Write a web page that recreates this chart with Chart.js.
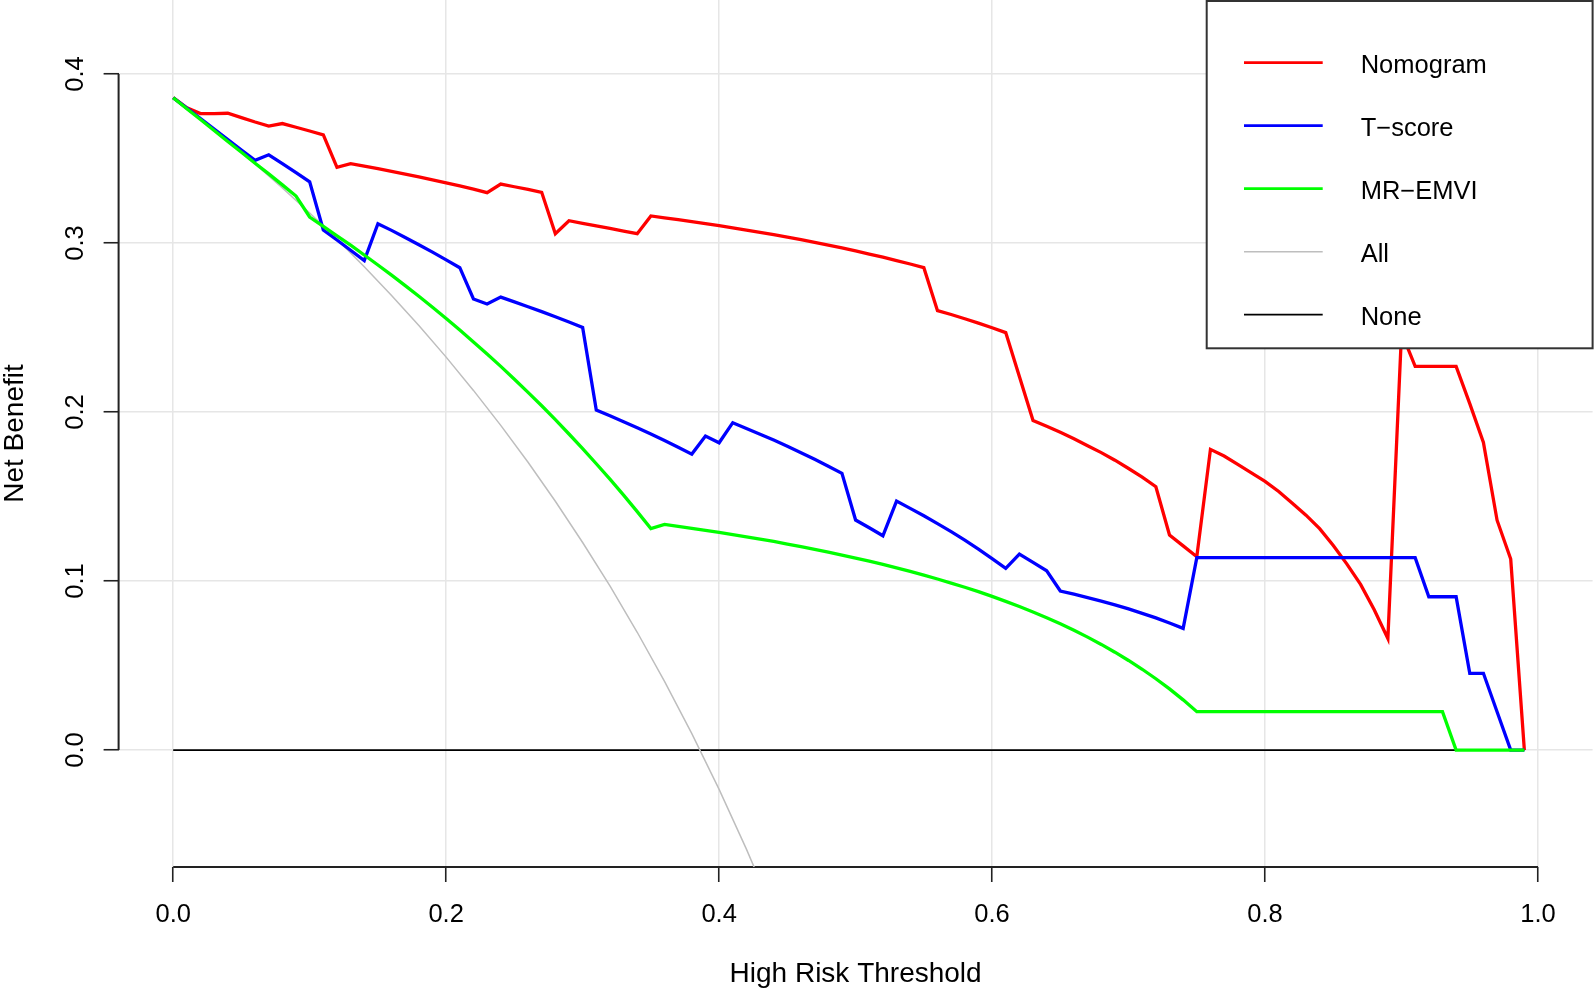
<!DOCTYPE html>
<html>
<head>
<meta charset="utf-8">
<title>Decision curve</title>
<script src="https://cdn.jsdelivr.net/npm/chart.js@4.4.1/dist/chart.umd.min.js"></script>
<style>
  html, body { margin: 0; padding: 0; background: #fff; }
  #chart { display: block; }
</style>
</head>
<body>
<canvas id="chart" width="1594" height="992"></canvas>
<script>
// threshold probabilities (x values of the model curves)
const thresholds = [
  0.00, 0.01, 0.02, 0.03, 0.04, 0.05, 0.06, 0.07, 0.08, 0.09,
  0.10, 0.11, 0.12, 0.13, 0.14, 0.15, 0.16, 0.17, 0.18, 0.19,
  0.20, 0.21, 0.22, 0.23, 0.24, 0.25, 0.26, 0.27, 0.28, 0.29,
  0.30, 0.31, 0.32, 0.33, 0.34, 0.35, 0.36, 0.37, 0.38, 0.39,
  0.40, 0.41, 0.42, 0.43, 0.44, 0.45, 0.46, 0.47, 0.48, 0.49,
  0.50, 0.51, 0.52, 0.53, 0.54, 0.55, 0.56, 0.57, 0.58, 0.59,
  0.60, 0.61, 0.62, 0.63, 0.64, 0.65, 0.66, 0.67, 0.68, 0.69,
  0.70, 0.71, 0.72, 0.73, 0.74, 0.75, 0.76, 0.77, 0.78, 0.79,
  0.80, 0.81, 0.82, 0.83, 0.84, 0.85, 0.86, 0.87, 0.88, 0.89,
  0.90, 0.91, 0.92, 0.93, 0.94, 0.95, 0.96, 0.97, 0.98, 0.99
];

// net benefit
const nomogram = [
  0.386, 0.380, 0.3766, 0.3766, 0.3768, 0.3742, 0.3716, 0.3692, 0.3707, 0.3685,
  0.3663, 0.3640, 0.3448, 0.3470, 0.3455, 0.3440, 0.3424, 0.3408, 0.3391, 0.3374,
  0.3356, 0.3338, 0.3319, 0.3298, 0.3349, 0.3333, 0.3317, 0.3300, 0.3055, 0.3132,
  0.3117, 0.3102, 0.3087, 0.3071, 0.3055, 0.3160, 0.3149, 0.3138, 0.3127, 0.3115,
  0.3103, 0.3090, 0.3077, 0.3063, 0.3049, 0.3035, 0.3020, 0.3004, 0.2988, 0.2971,
  0.2953, 0.2935, 0.2916, 0.2896, 0.2876, 0.2854, 0.2600, 0.2577, 0.2552, 0.2526,
  0.2499, 0.2470, 0.2210, 0.1950, 0.1916, 0.1880, 0.1842, 0.1800, 0.1760, 0.1715,
  0.1666, 0.1615, 0.1558, 0.1272, 0.1208, 0.1144, 0.1779, 0.1740, 0.1690, 0.1640,
  0.1590, 0.1530, 0.1460, 0.1390, 0.1310, 0.1210, 0.1100, 0.0980, 0.0830, 0.0660,
  0.2470, 0.2270, 0.2270, 0.2270, 0.2270, 0.2050, 0.1820, 0.1360, 0.1130, 0.0000
];

const tScore = [
  0.386, 0.3798, 0.3737, 0.3675, 0.3612, 0.3550, 0.3489, 0.3522, 0.3470, 0.3416,
  0.3362, 0.3077, 0.3018, 0.2957, 0.2896, 0.3114, 0.3075, 0.3033, 0.2990, 0.2946,
  0.2900, 0.2854, 0.2669, 0.2639, 0.2680, 0.2652, 0.2623, 0.2594, 0.2564, 0.2533,
  0.2501, 0.2012, 0.1978, 0.1943, 0.1907, 0.1870, 0.1832, 0.1792, 0.1751, 0.1858,
  0.1818, 0.1937, 0.1903, 0.1869, 0.1834, 0.1797, 0.1759, 0.1720, 0.1679, 0.1637,
  0.1361, 0.1315, 0.1268, 0.1473, 0.1430, 0.1386, 0.1340, 0.1292, 0.1242, 0.1189,
  0.1133, 0.1075, 0.1160, 0.1110, 0.1061, 0.0941, 0.0922, 0.0902, 0.0881, 0.0859,
  0.0835, 0.0809, 0.0782, 0.0752, 0.0720, 0.1138, 0.1138, 0.1138, 0.1138, 0.1138,
  0.1138, 0.1138, 0.1138, 0.1138, 0.1138, 0.1138, 0.1138, 0.1138, 0.1138, 0.1138,
  0.1138, 0.1138, 0.0907, 0.0907, 0.0907, 0.0454, 0.0454, 0.0227, 0.0000, 0.0000
];

const mrEmvi = [
  0.386, 0.3795, 0.3731, 0.3666, 0.3601, 0.3537, 0.3472, 0.3409, 0.3344, 0.3278,
  0.3154, 0.3098, 0.3043, 0.2987, 0.2929, 0.2870, 0.2810, 0.2748, 0.2685, 0.2620,
  0.2553, 0.2485, 0.2415, 0.2344, 0.2270, 0.2194, 0.2116, 0.2037, 0.1955, 0.1870,
  0.1784, 0.1694, 0.1603, 0.1508, 0.1411, 0.1310, 0.1335, 0.1324, 0.1312, 0.1300,
  0.1288, 0.1275, 0.1262, 0.1248, 0.1234, 0.1219, 0.1204, 0.1188, 0.1171, 0.1154,
  0.1136, 0.1118, 0.1099, 0.1078, 0.1057, 0.1035, 0.1012, 0.0988, 0.0963, 0.0937,
  0.0909, 0.0880, 0.0849, 0.0817, 0.0783, 0.0747, 0.0709, 0.0668, 0.0625, 0.0579,
  0.0530, 0.0478, 0.0422, 0.0362, 0.0297, 0.0227, 0.0227, 0.0227, 0.0227, 0.0227,
  0.0227, 0.0227, 0.0227, 0.0227, 0.0227, 0.0227, 0.0227, 0.0227, 0.0227, 0.0227,
  0.0227, 0.0227, 0.0227, 0.0227, 0.0000, 0.0000, 0.0000, 0.0000, 0.0000, 0.0000
];

// "treat all" reference curve
const allX = [0.00, 0.02, 0.04, 0.06, 0.08, 0.10, 0.12, 0.14, 0.16, 0.18, 0.20, 0.22,
  0.24, 0.26, 0.28, 0.30, 0.32, 0.34, 0.36, 0.38, 0.40, 0.42, 0.44];
const allY = [0.386, 0.3735, 0.3604, 0.3468, 0.3326, 0.3178, 0.3023, 0.2860, 0.2690,
  0.2512, 0.2325, 0.2128, 0.1921, 0.1703, 0.1472, 0.1228, 0.0971, 0.0697, 0.0406,
  0.0097, -0.0233, -0.0586, -0.0964];

// "treat none" reference line
const noneX = [0.00, 0.99];
const noneY = [0, 0];

const xTicks = [0, 0.2, 0.4, 0.6, 0.8, 1.0];
const yTicks = [0, 0.1, 0.2, 0.3, 0.4];

const FONT = '"Liberation Sans", Arial, Helvetica, sans-serif';
Chart.defaults.font.family = FONT;
Chart.defaults.color = "#000";

function toPoints(xs, ys) {
  return xs.map((x, i) => ({ x: x, y: ys[i] }));
}

//R style axes: short axis lines, rotated y labels, boxed legend
const rStyle = {
  id: "rStyle",
  beforeDatasetsDraw(chart) {
    const { ctx, scales: { x, y } } = chart;
    ctx.save();
    ctx.strokeStyle = "#222";
    ctx.lineWidth = 2;
    ctx.beginPath();
    ctx.moveTo(x.getPixelForValue(xTicks[0]), x.top);
    ctx.lineTo(x.getPixelForValue(xTicks[xTicks.length - 1]), x.top);
    ctx.moveTo(y.right, y.getPixelForValue(yTicks[0]));
    ctx.lineTo(y.right, y.getPixelForValue(yTicks[yTicks.length - 1]));
    ctx.stroke();

    ctx.fillStyle = "#000";
    ctx.font = "25.5px " + FONT;
    ctx.textAlign = "center";
    ctx.textBaseline = "alphabetic";
    y.ticks.forEach((t) => {
      ctx.save();
      ctx.translate(y.right - 36, y.getPixelForValue(t.value));
      ctx.rotate(-Math.PI / 2);
      ctx.fillText(t.value.toFixed(1), 0, 0);
      ctx.restore();
    });
    ctx.restore();
  },
  afterDraw(chart) {
    const ctx = chart.ctx;
    const area = chart.chartArea;
    const box = { left: 1206.7, top: 1, right: area.right, bottom: 348.3 };
    ctx.save();
    ctx.fillStyle = "#fff";
    ctx.fillRect(box.left, box.top, box.right - box.left, box.bottom - box.top);
    ctx.strokeStyle = "#333";
    ctx.lineWidth = 2;
    ctx.strokeRect(box.left, box.top, box.right - box.left, box.bottom - box.top);

    ctx.font = "25.5px " + FONT;
    ctx.textAlign = "left";
    ctx.textBaseline = "alphabetic";
    chart.data.datasets.forEach((ds, i) => {
      const ly = 62.7 + 63 * i;
      ctx.strokeStyle = ds.borderColor;
      ctx.lineWidth = Math.min(ds.borderWidth, 2.8);
      ctx.beginPath();
      ctx.moveTo(1244, ly);
      ctx.lineTo(1322.7, ly);
      ctx.stroke();
      ctx.fillStyle = "#000";
      ctx.fillText(ds.label, 1360.7, ly + 10.6);
    });
    ctx.restore();
  }
};

const ctx = document.getElementById("chart").getContext("2d");
new Chart(ctx, {
  type: "line",
  data: {
    datasets: [
      { label: "Nomogram", data: toPoints(thresholds, nomogram), borderColor: "#ff0000", borderWidth: 3.3, order: 3 },
      { label: "T\u2212score", data: toPoints(thresholds, tScore), borderColor: "#0000ff", borderWidth: 3.3, order: 2 },
      { label: "MR\u2212EMVI", data: toPoints(thresholds, mrEmvi), borderColor: "#00ff00", borderWidth: 3.3, order: 1 },
      { label: "All", data: toPoints(allX, allY), borderColor: "#bebebe", borderWidth: 1.5, order: 4 },
      { label: "None", data: toPoints(noneX, noneY), borderColor: "#000000", borderWidth: 1.7, order: 5 }
    ]
  },
  options: {
    responsive: false,
    animation: false,
    layout: { padding: { top: 0, right: 1.4, bottom: 0, left: 0 } },
    elements: {
      point: { radius: 0, hoverRadius: 0 },
      line: { tension: 0, borderJoinStyle: "miter", fill: false }
    },
    plugins: {
      legend: { display: false },
      tooltip: { enabled: false }
    },
    scales: {
      x: {
        type: "linear",
        min: -0.04,
        max: 1.04,
        afterBuildTicks: (scale) => { scale.ticks = xTicks.map((v) => ({ value: v })); },
        afterFit: (scale) => { scale.height = 125; },
        border: { display: false },
        grid: { color: "#e6e6e6", lineWidth: 1.5, tickColor: "#222", tickWidth: 1.6, tickLength: 15 },
        ticks: {
          callback: (v) => v.toFixed(1),
          font: { size: 25.5 },
          color: "#000",
          padding: 17.5,
          maxRotation: 0,
          autoSkip: false
        },
        title: {
          display: true,
          text: "High Risk Threshold",
          font: { size: 28, lineHeight: 1 },
          padding: { top: 0, bottom: 4 },
          color: "#000"
        }
      },
      y: {
        type: "linear",
        min: -0.0692,
        max: 0.4438,
        afterBuildTicks: (scale) => { scale.ticks = yTicks.map((v) => ({ value: v })); },
        afterFit: (scale) => { scale.width = 118.6; },
        border: { display: false },
        grid: { color: "#e6e6e6", lineWidth: 1.5, tickColor: "#222", tickWidth: 1.6, tickLength: 15 },
        ticks: { display: false },
        title: {
          display: true,
          text: "Net Benefit",
          font: { size: 28, lineHeight: 1 },
          padding: { top: 1, bottom: 0 },
          color: "#000"
        }
      }
    }
  },
  plugins: [rStyle]
});
</script>
</body>
</html>
